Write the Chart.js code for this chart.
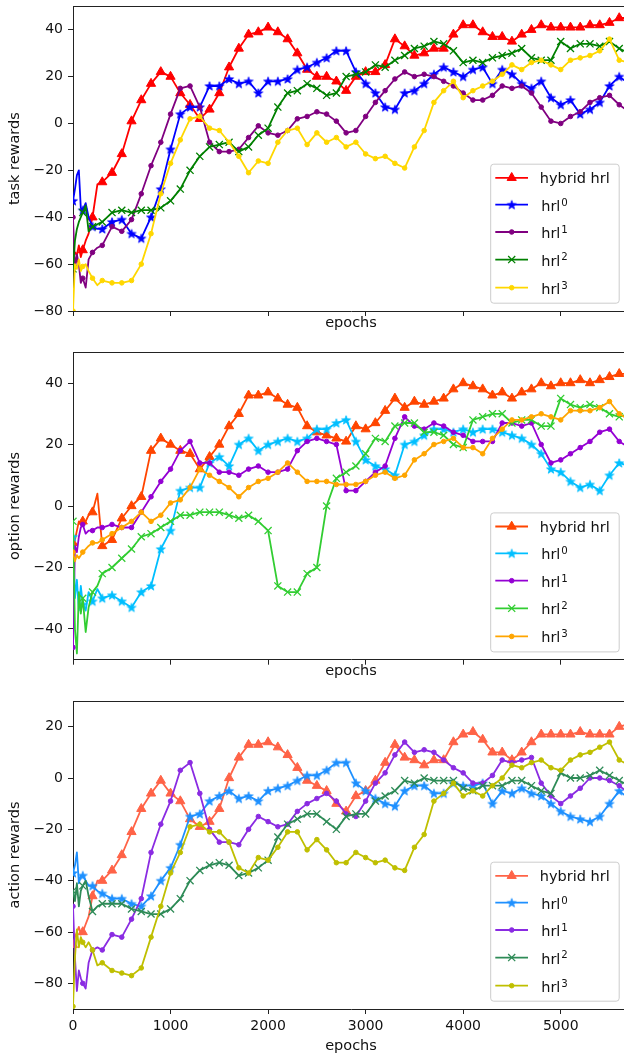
<!DOCTYPE html>
<html>
<head>
<meta charset="utf-8">
<script src="https://cdn.jsdelivr.net/npm/chart.js@4.4.1/dist/chart.umd.min.js"></script>
<style>
  html, body { margin: 0; padding: 0; background: #fff; overflow: hidden; width: 624px; height: 1057px; }
  canvas { position: absolute; left: 0; }
</style>
</head>
<body>
<canvas id="task" width="640" height="345" style="top:0px"></canvas>
<canvas id="option" width="640" height="345" style="top:345px"></canvas>
<canvas id="action" width="640" height="367" style="top:690px"></canvas>
<script>
// ---- data ----------------------------------------------------------------
const epochs = [0, 20, 40, 60, 80, 100, 130, 160, 200, 250,
  300, 400, 500, 600, 700, 800, 900, 1000, 1100, 1200,
  1300, 1400, 1500, 1600, 1700, 1800, 1900, 2000, 2100, 2200,
  2300, 2400, 2500, 2600, 2700, 2800, 2900, 3000, 3100, 3200,
  3300, 3400, 3500, 3600, 3700, 3800, 3900, 4000, 4100, 4200,
  4300, 4400, 4500, 4600, 4700, 4800, 4900, 5000, 5100, 5200,
  5300, 5400, 5500, 5600, 5700];

const seriesBase = ['hybrid hrl', 'hrl', 'hrl', 'hrl', 'hrl'];
const seriesSup  = ['', '0', '1', '2', '3'];

const xTicks = [0, 1000, 2000, 3000, 4000, 5000];
const taskTicks = [-80, -60, -40, -20, 0, 20, 40];
const optionTicks = [-40, -20, 0, 20, 40];
const actionTicks = [-80, -60, -40, -20, 0, 20];

// task rewards
const taskHybrid = [-58,-55,-56,-52,-57,-54,-50,-47,-40,-26,
  -25,-21,-13,1,10,17,22,20,13,8, 2,6,13,24,32,38,39,41,39,36,
  30,23,20,20,18,14,20,22,22,25, 36,33,29,30,32,32,38,42,42,39,
  37,37,35,38,40,42,41,41,41,41, 42,42,43,45,45];
const taskHrl0 = [-33,-28,-22,-20,-36,-37,-34,-40,-44,-45,
  -45,-42,-41,-47,-49,-40,-28,-11,4,7, 7,16,16,19,17,18,13,18,18,19,
  23,24,26,28,31,31,22,17,13,7, 6,13,14,17,21,24,22,20,23,24,
  17,23,21,17,15,18,11,8,10,4, 6,9,16,20,17];
const taskHrl1 = [-40,-62,-56,-60,-68,-66,-70,-58,-55,-53,
  -52,-44,-46,-41,-30,-18,-8,4,15,16, 7,-8,-12,-12,-11,-6,-1,-4,-5,-3,
  2,3,5,4,1,-4,-3,3,9,14, 19,22,20,21,20,18,16,13,10,10,
  12,16,15,16,13,7,1,0,3,5, 9,11,12,8,5];
const taskHrl2 = [-62,-50,-45,-42,-40,-38,-35,-46,-44,-43,
  -42,-38,-37,-38,-37,-37,-36,-33,-28,-20, -14,-10,-9,-8,-12,-10,-5,-2,7,13,
  14,17,15,12,13,20,21,22,25,24, 27,29,32,33,35,34,31,26,27,26,
  28,29,30,32,28,27,27,35,32,34, 34,33,35,32,30];
const taskHrl3 = [-80,-60,-62,-58,-63,-61,-60,-63,-66,-69,
  -67,-68,-68,-67,-60,-47,-30,-17,-7,2, 3,-2,-3,-8,-14,-21,-16,-17,-8,-3,
  -2,-9,-4,-8,-6,-10,-8,-13,-15,-14, -17,-19,-10,-3,9,14,18,11,14,16,
  18,21,25,23,26,27,25,23,27,28, 29,31,36,27,26];

// option rewards
const optionHybrid = [-12,-11,-8,-5,-6,-5,-5,-3,-2,4,
  -13,-11,-4,0,3,18,22,20,18,17, 12,16,20,26,30,36,36,37,35,33,
  32,26,24,23,22,21,26,25,27,31, 35,32,34,33,34,35,38,40,39,38,
  36,37,35,37,38,40,39,40,40,41, 40,41,42,43,43];
const optionHrl0 = [-10,-30,-24,-34,-26,-32,-34,-28,-31,-27,
  -30,-29,-31,-33,-28,-26,-14,-8,5,6, 6,14,16,13,20,22,18,20,21,22,
  21,22,25,25,27,28,21,15,13,12, 10,20,21,23,25,25,24,25,24,25,
  25,24,23,22,20,17,12,11,8,6, 7,5,10,14,13];
const optionHrl1 = [-46,-13,-15,-10,-7,-6,-9,-8,-8,-7,
  -7,-6,-7,-7,-2,3,8,12,18,21, 14,14,11,11,10,12,13,11,11,12,
  18,21,22,21,20,5,5,8,11,13, 22,29,26,25,27,26,24,23,21,21,
  21,27,27,26,27,20,14,15,17,19, 21,24,25,21,19];
const optionHrl2 = [-5,-40,-48,-28,-35,-30,-41,-33,-28,-26,
  -22,-20,-17,-14,-10,-9,-7,-5,-3,-3, -2,-2,-2,-3,-4,-3,-5,-8,-26,-28,
  -28,-22,-20,0,9,11,13,17,22,21, 26,27,27,24,24,23,20,19,28,29,
  30,30,27,28,28,26,26,35,33,32, 33,32,30,29,30];
const optionHrl3 = [-15,-18,-16,-17,-16,-15,-14,-13,-12,-12,
  -11,-9,-7,-5,-2,-5,-3,1,2,6, 12,10,8,6,3,6,8,9,11,14,
  11,8,8,8,7,7,7,8,10,11, 9,10,15,17,20,21,22,19,19,17,
  22,25,28,28,29,30,29,28,31,31, 31,32,34,30,28];

// action rewards
const actionHybrid = [-65,-62,-60,-58,-61,-60,-57,-54,-46,-40,
  -40,-36,-30,-21,-12,-6,-1,-6,-9,-16, -19,-17,-12,0,8,13,13,14,12,9,
  4,-1,-3,-5,-10,-13,-7,-5,-1,6, 13,8,7,5,7,7,14,17,18,15,
  10,10,7,10,14,17,17,17,17,18, 17,17,17,20,21];
const actionHrl0 = [-37,-34,-29,-41,-38,-38,-40,-42,-42,-44,
  -45,-47,-47,-49,-50,-46,-40,-35,-26,-15, -14,-9,-7,-5,-8,-7,-9,-5,-4,-3,
  -1,1,1,3,6,6,-2,-5,-8,-10, -11,-5,-3,-3,-6,-6,-2,-3,-3,-2,
  -10,-5,-6,-4,-6,-7,-10,-13,-15,-16, -17,-15,-10,-5,-8];
const actionHrl1 = [-50,-70,-83,-75,-78,-80,-82,-72,-67,-66,
  -67,-61,-62,-55,-47,-29,-18,-9,3,6, -6,-20,-25,-25,-26,-20,-15,-17,-19,-18,
  -13,-10,-8,-6,-9,-14,-15,-9,-2,2, 9,14,10,11,10,7,4,2,-2,-2,
  1,7,6,7,8,-2,-7,-10,-7,-4, 0,0,-1,-3,-6];
const actionHrl2 = [-44,-48,-41,-50,-44,-42,-40,-46,-52,-50,
  -49,-49,-49,-51,-52,-53,-53,-51,-47,-40, -36,-34,-33,-34,-38,-37,-35,-32,-23,-18,
  -16,-14,-14,-17,-20,-15,-14,-14,-9,-7, -5,-1,-2,0,-1,-1,-1,-4,-5,-3,
  -3,-3,-1,-1,-3,-5,-6,2,0,0, 1,3,1,-1,-3];
const actionHrl3 = [-89,-70,-59,-66,-62,-64,-66,-64,-67,-73,
  -72,-75,-76,-77,-74,-62,-50,-37,-29,-19, -18,-21,-21,-25,-35,-37,-31,-32,-27,-21,
  -21,-28,-24,-28,-33,-33,-29,-31,-33,-32, -35,-36,-27,-22,-9,-6,-2,-7,-5,-7,
  -3,0,5,4,6,7,4,3,7,9, 10,12,14,7,5];

// ---- styling ---------------------------------------------------------------
Chart.defaults.font.family = '"DejaVu Sans", sans-serif';
const INK = '#111111';
const AXIS = '#222222';

const panels = [
  { id: 'task', yLabel: 'task rewards', yMin: -80, yMax: 50, yTicks: taskTicks,
    series: [taskHybrid, taskHrl0, taskHrl1, taskHrl2, taskHrl3],
    colors: ['#ff0000', '#0000ff', '#800080', '#008000', '#ffd700'],
    padTop: 4, xHeight: 34, xTitlePad: 13.3, xLabels: false },
  { id: 'option', yLabel: 'option rewards', yMin: -50, yMax: 50, yTicks: optionTicks,
    series: [optionHybrid, optionHrl0, optionHrl1, optionHrl2, optionHrl3],
    colors: ['#ff4500', '#00bfff', '#9400d3', '#32cd32', '#ffa500'],
    padTop: 7.3, xHeight: 30.3, xTitlePad: 9.6, xLabels: false },
  { id: 'action', yLabel: 'action rewards', yMin: -90, yMax: 30, yTicks: actionTicks,
    series: [actionHybrid, actionHrl0, actionHrl1, actionHrl2, actionHrl3],
    colors: ['#ff6347', '#1e90ff', '#8a2be2', '#2e8b57', '#bfbf00'],
    padTop: 11, xHeight: 48, xTitlePad: 2.3, xLabels: true }
];

// filled five-pointed star used as a point style
function starImage(color) {
  const c = document.createElement('canvas');
  c.width = 12; c.height = 12;
  const g = c.getContext('2d');
  g.beginPath();
  for (let k = 0; k < 10; k++) {
    const r = k % 2 ? 1.9 : 4.7;
    const ang = -Math.PI / 2 + k * Math.PI / 5;
    const px = 6 + r * Math.cos(ang), py = 6.4 + r * Math.sin(ang);
    if (k === 0) g.moveTo(px, py); else g.lineTo(px, py);
  }
  g.closePath();
  g.fillStyle = color; g.fill();
  g.strokeStyle = color; g.lineWidth = 0.8; g.stroke();
  return c;
}

const markerRadius = [5.3, 4.7, 2.3, 5.0, 2.3];
const markerBorder = [1, 1, 1, 1.3, 1];
function markerStyle(i, color) {
  return ['triangle', starImage(color), 'circle', 'crossRot', 'circle'][i];
}

function drawMarker(ctx, i, color, style, x, y) {
  ctx.save();
  ctx.fillStyle = color; ctx.strokeStyle = color; ctx.lineWidth = markerBorder[i];
  if (i === 1) {
    ctx.drawImage(style, x - style.width / 2, y - style.height / 2);
  } else if (i === 0) {
    const r = markerRadius[0];
    ctx.beginPath();
    for (let k = 0; k < 3; k++) {
      const ang = k * 2 * Math.PI / 3;
      const px = x + Math.sin(ang) * r, py = y - Math.cos(ang) * r;
      if (k === 0) ctx.moveTo(px, py); else ctx.lineTo(px, py);
    }
    ctx.closePath(); ctx.fill(); ctx.stroke();
  } else if (i === 3) {
    const d = markerRadius[3] * Math.SQRT1_2;
    ctx.beginPath();
    ctx.moveTo(x - d, y - d); ctx.lineTo(x + d, y + d);
    ctx.moveTo(x - d, y + d); ctx.lineTo(x + d, y - d);
    ctx.stroke();
  } else {
    ctx.beginPath(); ctx.arc(x, y, markerRadius[i], 0, Math.PI * 2);
    ctx.fill(); ctx.stroke();
  }
  ctx.restore();
}

function alignPx(v) { return Math.round(v - 0.5) + 0.5; }

// top spine and the in-axes legend box
function framePlugin(p, styles) {
  return {
    id: 'frame_' + p.id,
    afterDraw(chart) {
      const ctx = chart.ctx, a = chart.chartArea;
      ctx.save();
      ctx.strokeStyle = AXIS; ctx.lineWidth = 1;
      ctx.beginPath();
      ctx.moveTo(a.left, alignPx(a.top)); ctx.lineTo(a.right, alignPx(a.top));
      ctx.moveTo(alignPx(a.right), a.top); ctx.lineTo(alignPx(a.right), a.bottom);
      ctx.stroke();

      const W = 128.5, H = 139, rad = 3;
      const bx = a.right - 9.8 - W, by = a.bottom - 7.8 - H;
      ctx.beginPath();
      ctx.moveTo(bx + rad, by);
      ctx.arcTo(bx + W, by, bx + W, by + H, rad);
      ctx.arcTo(bx + W, by + H, bx, by + H, rad);
      ctx.arcTo(bx, by + H, bx, by, rad);
      ctx.arcTo(bx, by, bx + W, by, rad);
      ctx.closePath();
      ctx.fillStyle = 'rgba(255,255,255,0.8)'; ctx.fill();
      ctx.strokeStyle = '#cccccc'; ctx.lineWidth = 1; ctx.stroke();

      const rowY = [13.6, 40.5, 67.8, 95.4, 123.5];
      for (let i = 0; i < 5; i++) {
        const y = by + rowY[i];
        ctx.strokeStyle = p.colors[i]; ctx.lineWidth = 1.8;
        ctx.beginPath(); ctx.moveTo(bx + 4.6, y); ctx.lineTo(bx + 37.3, y); ctx.stroke();
        drawMarker(ctx, i, p.colors[i], styles[i], bx + 21, y);
        ctx.fillStyle = INK;
        ctx.textAlign = 'left'; ctx.textBaseline = 'alphabetic';
        ctx.font = '14.5px "DejaVu Sans"';
        const base = y + (seriesSup[i] ? 6 : 5.5);
        const tx = bx + (seriesSup[i] ? 50.5 : 49);
        ctx.fillText(seriesBase[i], tx, base);
        if (seriesSup[i]) {
          const w = ctx.measureText(seriesBase[i]).width;
          ctx.font = '10.2px "DejaVu Sans"';
          ctx.fillText(seriesSup[i], tx + w + 0.8, base - 5.2);
        }
      }
      ctx.restore();
    }
  };
}

const fmtMinus = v => (v < 0 ? '\u2212' + Math.abs(v) : String(v));

panels.forEach(p => {
  const styles = p.colors.map((c, i) => markerStyle(i, c));
  const datasets = p.series.map((vals, i) => ({
    label: seriesBase[i] + seriesSup[i],
    data: epochs.map((x, k) => ({ x: x, y: vals[k] })),
    borderColor: p.colors[i],
    backgroundColor: p.colors[i],
    borderWidth: 1.8,
    borderJoinStyle: 'round',
    tension: 0,
    fill: false,
    pointStyle: styles[i],
    pointRadius: ctx => (ctx.raw && ctx.raw.x % 100 === 0 ? markerRadius[i] : 0),
    pointHoverRadius: 0,
    pointBorderWidth: markerBorder[i],
    pointBackgroundColor: p.colors[i],
    pointBorderColor: p.colors[i],
    order: 4 - i
  }));

  const gridOpts = { display: true, drawOnChartArea: false, drawTicks: true, tickLength: 5, color: AXIS, lineWidth: 1 };
  const borderOpts = { display: true, color: AXIS, width: 1 };
  const noEdgePadding = s => { s.paddingTop = 0; s.paddingBottom = 0; s.paddingLeft = 0; s.paddingRight = 0; };

  new Chart(document.getElementById(p.id), {
    type: 'line',
    data: { datasets },
    options: {
      responsive: false,
      animation: false,
      devicePixelRatio: 1,
      events: [],
      layout: { padding: { top: p.padTop, right: 11, left: 0, bottom: 0 } },
      plugins: { legend: { display: false }, tooltip: { enabled: false }, title: { display: false } },
      scales: {
        x: {
          type: 'linear', min: 0, max: 5700,
          afterBuildTicks: s => { s.ticks = xTicks.map(v => ({ value: v })); },
          afterFit: s => { s.height = p.xHeight; noEdgePadding(s); },
          ticks: { autoSkip: false, maxRotation: 0, padding: 4, color: INK, font: { size: 14 },
                   callback: v => (p.xLabels ? String(v) : '') },
          grid: gridOpts,
          border: borderOpts,
          title: { display: true, text: 'epochs', color: INK, font: { size: 14.5 },
                   padding: { top: 0, bottom: p.xTitlePad } }
        },
        y: {
          type: 'linear', min: p.yMin, max: p.yMax,
          afterBuildTicks: s => { s.ticks = p.yTicks.map(v => ({ value: v })); },
          afterFit: s => { s.width = 73; noEdgePadding(s); },
          ticks: { padding: 5, color: INK, font: { size: 14 }, callback: v => fmtMinus(v) },
          grid: gridOpts,
          border: borderOpts,
          title: { display: true, text: p.yLabel, color: INK, font: { size: 14.5 },
                   padding: { top: 6.3, bottom: 0 } }
        }
      }
    },
    plugins: [framePlugin(p, styles)]
  });
});
</script>
</body>
</html>
